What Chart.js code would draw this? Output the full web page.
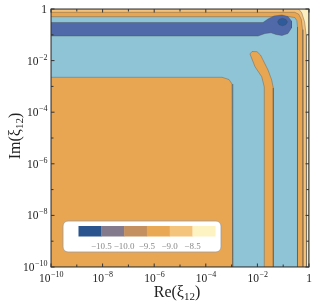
<!DOCTYPE html>
<html>
<head>
<meta charset="utf-8">
<script src="https://cdn.jsdelivr.net/npm/chart.js@4.4.1/dist/chart.umd.min.js"></script>
<style>
  html, body { margin: 0; padding: 0; background: #fff; }
  #wrap { width: 316px; height: 307px; }
</style>
</head>
<body>
<div id="wrap"><canvas id="chart" width="316" height="307"></canvas></div>
<script>
// axis ticks, as powers of ten
const majorExps = [-10, -8, -6, -4, -2, 0];
const minorExps = [-10, -9, -8, -7, -6, -5, -4, -3, -2, -1, 0];

// contour regions, vertices as [log10 Re, log10 Im]
const paleRegion = [[-10, -10], [-10, 0], [0, 0], [0, -10]];
const lightOrangeRegion = [[-10, -10], [-10, 0], [-0.40, 0], [-0.28, -0.15], [-0.17, -0.5], [-0.11, -1.0], [-0.097, -10]];
const orangeRegion = [[-10, -10], [-10, -0.128], [-0.55, -0.128], [-0.40, -0.20], [-0.30, -0.40], [-0.25, -0.80], [-0.233, -2], [-0.233, -10]];
const blueRegion = [[-10, -10], [-10, -0.298], [-0.75, -0.298], [-0.55, -0.33], [-0.47, -0.45], [-0.446, -0.70], [-0.446, -10]];
const darkBand = [[-10, -0.523], [-1.783, -0.523], [-1.589, -0.388], [-1.357, -0.271], [-1.047, -0.233], [-0.814, -0.291],
  [-0.678, -0.465], [-0.678, -0.736], [-0.814, -0.950], [-1.047, -1.027], [-1.279, -0.988], [-1.473, -0.922],
  [-1.705, -0.950], [-1.977, -1.047], [-10, -1.047]];
const darkCore = [[-1.22, -0.50], [-1.16, -0.40], [-1.03, -0.36], [-0.90, -0.40], [-0.83, -0.50], [-0.90, -0.61], [-1.03, -0.65], [-1.16, -0.61]];
const orangeBlock = [[-10, -10], [-10, -2.647], [-3.372, -2.647], [-3.101, -2.733], [-2.984, -2.907], [-2.957, -3.14], [-2.957, -10]];
const orangeStripe = [[-1.733, -10], [-1.733, -3.023], [-1.833, -2.624], [-2.093, -2.236], [-2.287, -1.744], [-2.209, -1.647],
  [-2.016, -1.655], [-1.880, -1.783], [-1.783, -1.977], [-1.589, -2.364], [-1.446, -2.752], [-1.384, -3.062], [-1.384, -10]];

// colour key
const legendColors = ['#2A548D', '#837A8D', '#C4905F', '#E9A853', '#F4C47D', '#FDF2C2'];
const legendLabels = ['−10.5', '−10.0', '−9.5', '−9.0', '−8.5'];

const SERIF = '"Liberation Serif", "DejaVu Serif", serif';
const TICK_FONT = 11.5, EXP_FONT = 8, TITLE_FONT = 16, SUB_FONT = 11;

function region(pts, color, order) {
  const data = pts.map(p => ({ x: Math.pow(10, p[0]), y: Math.pow(10, p[1]) }));
  data.push(data[0]);
  return {
    data, order,
    showLine: true,
    fill: 'shape',
    backgroundColor: color,
    borderColor: 'rgba(70,70,70,0.5)',
    borderWidth: 0.7,
    pointRadius: 0
  };
}

// 10 with a raised exponent
function powLabel(ctx, exp, x, y, align) {
  ctx.font = TICK_FONT + 'px ' + SERIF;
  if (exp === 0) {
    ctx.textAlign = align;
    ctx.fillText('1', x, y);
    return;
  }
  const e = '−' + Math.abs(exp);
  const wb = ctx.measureText('10').width;
  ctx.font = EXP_FONT + 'px ' + SERIF;
  const we = ctx.measureText(e).width;
  let x0 = x;
  if (align === 'center') x0 = x - (wb + we) / 2;
  if (align === 'right') x0 = x - (wb + we);
  ctx.textAlign = 'left';
  ctx.font = TICK_FONT + 'px ' + SERIF;
  ctx.fillText('10', x0, y);
  ctx.font = EXP_FONT + 'px ' + SERIF;
  ctx.fillText(e, x0 + wb + 0.5, y - 5);
}

// "Re(ξ12)" style label with subscript, centred at x
function subLabel(ctx, head, x, y) {
  ctx.font = TITLE_FONT + 'px ' + SERIF;
  const w1 = ctx.measureText(head).width;
  const w3 = ctx.measureText(')').width;
  ctx.font = SUB_FONT + 'px ' + SERIF;
  const w2 = ctx.measureText('12').width;
  const x0 = x - (w1 + w2 + w3) / 2;
  ctx.textAlign = 'left';
  ctx.font = TITLE_FONT + 'px ' + SERIF;
  ctx.fillText(head, x0, y);
  ctx.fillText(')', x0 + w1 + w2, y);
  ctx.font = SUB_FONT + 'px ' + SERIF;
  ctx.fillText('12', x0 + w1, y + 3);
}

const decor = {
  id: 'decor',
  afterDraw(chart) {
    const ctx = chart.ctx;
    const a = chart.chartArea;
    const sx = chart.scales.x, sy = chart.scales.y;
    ctx.save();

    // frame
    ctx.strokeStyle = '#333';
    ctx.lineWidth = 1;
    ctx.strokeRect(a.left, a.top, a.right - a.left, a.bottom - a.top);

    // inward ticks on every side
    ctx.beginPath();
    minorExps.forEach(e => {
      const len = majorExps.includes(e) ? 3.5 : 2.5;
      const px = sx.getPixelForValue(Math.pow(10, e));
      const py = sy.getPixelForValue(Math.pow(10, e));
      ctx.moveTo(px, a.bottom); ctx.lineTo(px, a.bottom - len);
      ctx.moveTo(px, a.top); ctx.lineTo(px, a.top + len);
      ctx.moveTo(a.left, py); ctx.lineTo(a.left + len, py);
      ctx.moveTo(a.right, py); ctx.lineTo(a.right - len, py);
    });
    ctx.stroke();

    // tick labels
    ctx.fillStyle = '#222';
    ctx.textBaseline = 'alphabetic';
    majorExps.forEach(e => {
      powLabel(ctx, e, sx.getPixelForValue(Math.pow(10, e)), a.bottom + 14.5, 'center');
      powLabel(ctx, e, a.left - 4, sy.getPixelForValue(Math.pow(10, e)) + 4, 'right');
    });

    // axis titles
    subLabel(ctx, 'Re(ξ', 177, 297);
    ctx.save();
    ctx.translate(20, 136);
    ctx.rotate(-Math.PI / 2);
    subLabel(ctx, 'Im(ξ', 0, 0);
    ctx.restore();

    // colour key box
    const bx = 63, by = 221, bw = 158, bh = 31;
    ctx.beginPath();
    ctx.roundRect(bx, by, bw, bh, 5);
    ctx.fillStyle = '#fff';
    ctx.fill();
    ctx.strokeStyle = '#9a9a9a';
    ctx.lineWidth = 0.8;
    ctx.stroke();
    const cx = 78.5, cy = 226, cw = 22.8, ch = 10.5;
    legendColors.forEach((c, i) => {
      ctx.fillStyle = c;
      ctx.fillRect(cx + i * cw, cy, cw + 0.3, ch);
    });
    ctx.fillStyle = '#8a8a8a';
    ctx.font = '9px ' + SERIF;
    ctx.textAlign = 'center';
    legendLabels.forEach((l, i) => {
      ctx.fillText(l, cx + (i + 1) * cw, 248.5);
    });
    ctx.restore();
  }
};

const chart = new Chart(document.getElementById('chart'), {
  type: 'scatter',
  data: {
    datasets: [
      region(paleRegion, '#FBEEC1', 8),
      region(lightOrangeRegion, '#F3C27C', 7),
      region(orangeRegion, '#E9A652', 6),
      region(blueRegion, '#8EC4D6', 5),
      region(darkBand, '#5069A9', 4),
      region(darkCore, '#2E5B9B', 3),
      region(orangeBlock, '#E9A652', 2),
      region(orangeStripe, '#E9A652', 1)
    ]
  },
  options: {
    responsive: false,
    animation: false,
    events: [],
    layout: { padding: { left: 51, top: 9, right: 7, bottom: 40 } },
    scales: {
      x: { type: 'logarithmic', min: 1e-10, max: 1, display: false },
      y: { type: 'logarithmic', min: 1e-10, max: 1, display: false }
    },
    plugins: { legend: { display: false }, tooltip: { enabled: false } }
  },
  plugins: [decor]
});
</script>
</body>
</html>
